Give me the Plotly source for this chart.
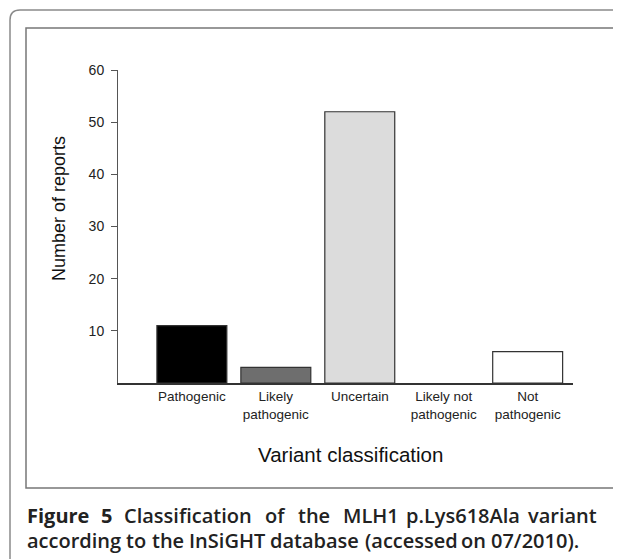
import plotly.graph_objects as go

categories = ["Pathogenic", "Likely pathogenic", "Uncertain", "Likely not pathogenic", "Not pathogenic"]
tick_labels = ["Pathogenic", "Likely<br>pathogenic", "Uncertain", "Likely not<br>pathogenic", "Not<br>pathogenic"]
reports = [11, 3, 52, 0, 6]
bar_colors = ["#000000", "#6e6e6e", "#dcdcdc", "#ffffff", "#ffffff"]
y_ticks = [10, 20, 30, 40, 50, 60]

caption_line1 = ["<b>Figure</b>", "<b>5</b>", "Classification", "of", "the", "MLH1", "p.Lys618Ala", "variant"]
caption_line2 = ["according", "to", "the", "InSiGHT", "database", "(accessed", "on", "07/2010)."]

# page offset of the plotly div (default body margin)
OFF = 8
W, H = 621 - OFF, 559 - OFF
# plot area in page pixels: x 118..573, y 70..383
PL, PR, PT, PB = 118, 573, 70, 383
L, T = PL - OFF, PT - OFF
PW, PH = PR - PL, PB - PT
R, B = W - L - PW, H - T - PH

def px(x):
    return (x - PL) / PW

def py(y):
    return (PB - y) / PH

fig = go.Figure()
fig.add_trace(go.Bar(
    x=list(range(len(categories))), y=reports,
    marker=dict(color=bar_colors,
                line=dict(color="#333333", width=[0 if v == 0 else 1.2 for v in reports])),
    width=0.833, hovertext=categories,
))

fig.update_layout(
    width=W, height=H,
    margin=dict(l=L, r=R, t=T, b=B, pad=0),
    paper_bgcolor="white", plot_bgcolor="white",
    showlegend=False,
    font=dict(family="Liberation Sans, Arial, sans-serif", color="#222222"),
    xaxis=dict(range=[-0.88, 4.54], tickvals=list(range(len(categories))), ticktext=tick_labels,
               showline=True, linecolor="#333333", linewidth=1.5, ticks="", showgrid=False,
               zeroline=False, tickfont=dict(size=13.5, color="#222222")),
    yaxis=dict(range=[0, 60], tickvals=y_ticks, showline=True, linecolor="#555555", linewidth=1,
               ticks="outside", ticklen=6, tickcolor="#555555", showgrid=False, zeroline=False,
               tickfont=dict(size=14, color="#222222"), ticklabelstandoff=4),
)

# outer rounded frame
r = 10
x0, y0, x1 = 10, 10, 660
path = (f"M {px(x0)},{py(580)} L {px(x0)},{py(y0 + r)} Q {px(x0)},{py(y0)} {px(x0 + r)},{py(y0)} "
        f"L {px(x1)},{py(y0)}")
fig.add_shape(type="path", xref="paper", yref="paper", path=path, line=dict(color="#8a8a8a", width=1.5))

# inner frame
fig.add_shape(type="rect", xref="paper", yref="paper", x0=px(26), x1=px(619), y0=py(488), y1=py(28),
              line=dict(color="#777777", width=1.5), fillcolor="rgba(0,0,0,0)", layer="below")

fig.add_annotation(text="Number of reports", xref="paper", yref="paper", x=px(59), y=py(208),
                   xanchor="center", yanchor="middle",
                   textangle=-90, showarrow=False, font=dict(size=18, color="#111111"))
fig.add_annotation(text="Variant classification", xref="paper", yref="paper", x=px(350), y=py(455),
                   xanchor="center", yanchor="middle",
                   showarrow=False, font=dict(size=20.5, color="#111111"))

# caption: words laid out with approximate rendered widths (px at 20px Open Sans semibold)
cap_size = 20
cap_font = dict(family="Open Sans, sans-serif", size=cap_size, color="#222222", weight=600)
w1 = [60.5, 9.7, 127.0, 20.5, 31.4, 49.7, 108.1, 67.0]
w2 = [93.0, 19.5, 30.3, 74.6, 89.0, 90.0, 23.0, 85.4]

def layout_line(widths, x_start, x_end):
    gap = (x_end - x_start - sum(widths)) / (len(widths) - 1)
    xs, cur = [], x_start
    for w in widths:
        xs.append(cur)
        cur += w + gap
    return xs

for words, widths, x_end, yline in ((caption_line1, w1, 596, 515), (caption_line2, w2, 577, 540)):
    for word, xs in zip(words, layout_line(widths, 28, x_end)):
        fig.add_annotation(text=word, xref="paper", yref="paper", x=px(xs - 3), y=py(yline),
                           xanchor="left", yanchor="middle", showarrow=False, font=cap_font)

fig.write_html("out.html")
